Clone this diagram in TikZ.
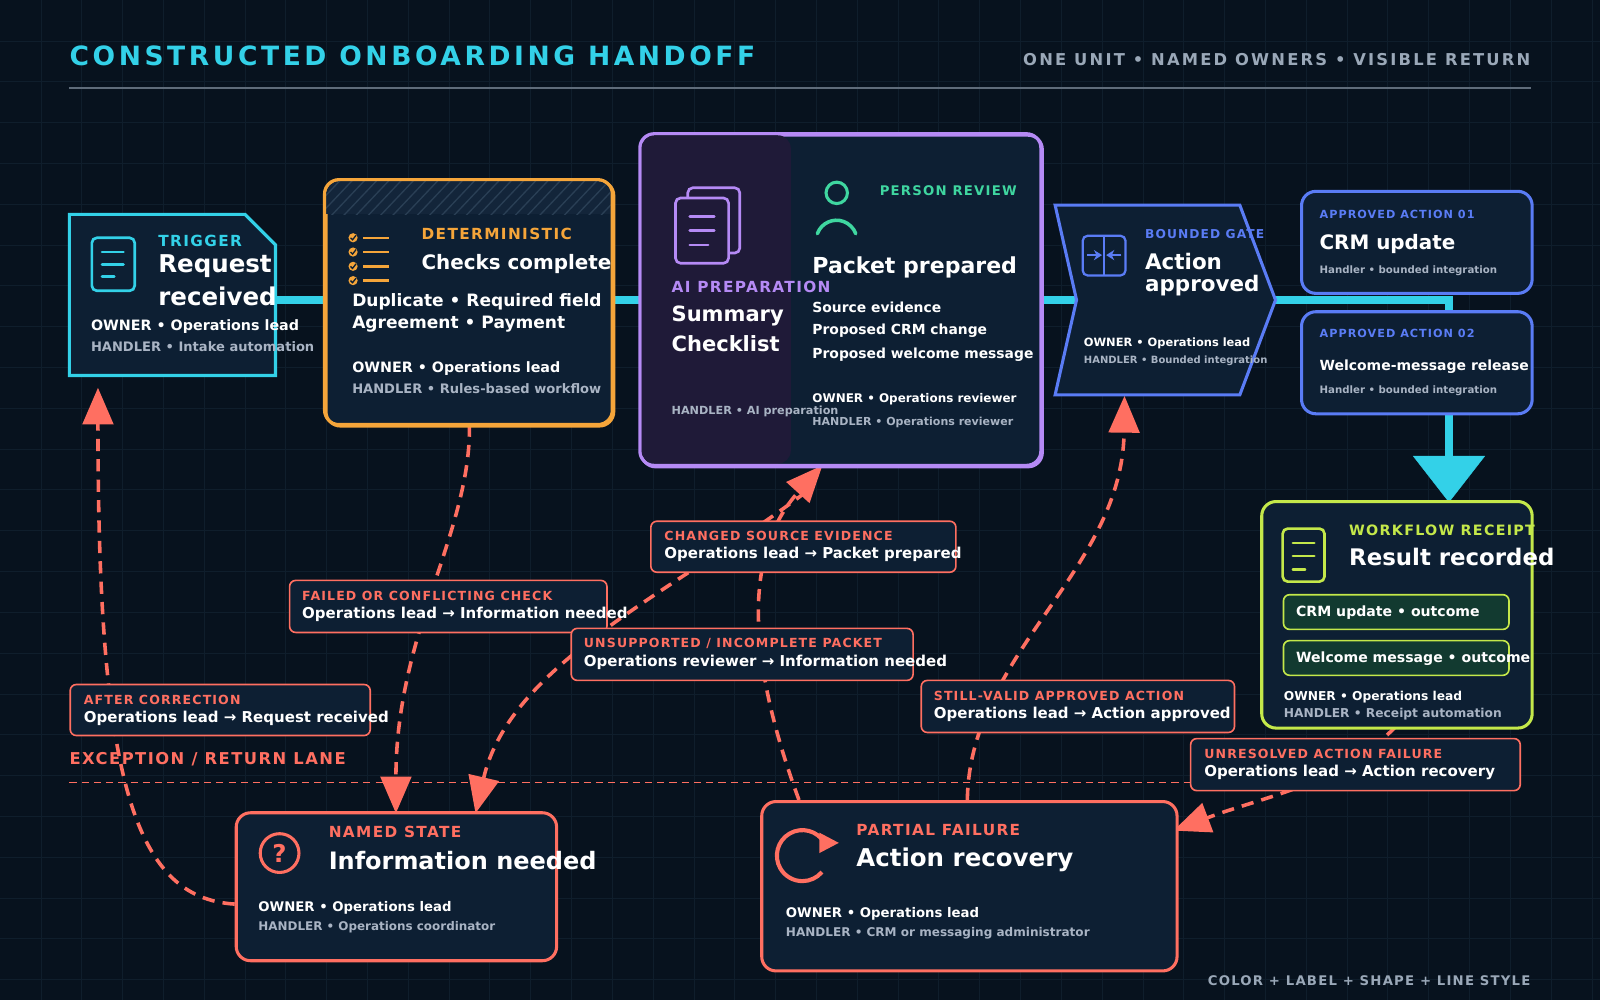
\documentclass[tikz,border=0pt]{standalone}
\usepackage{fontspec}
\setmainfont{DejaVu Sans}
\newfontfamily\spc[LetterSpace=9]{DejaVu Sans}
\newfontfamily\spcw[LetterSpace=13.5]{DejaVu Sans}
\usetikzlibrary{arrows.meta}
\definecolor{bg}{HTML}{07121E}
\definecolor{panel}{HTML}{0D1F33}
\definecolor{gridc}{HTML}{0F1E2C}
\definecolor{cy}{HTML}{33D1E8}
\definecolor{orn}{HTML}{F5A53A}
\definecolor{pur}{HTML}{B58AF5}
\definecolor{pdark}{HTML}{1F1A38}
\definecolor{grn}{HTML}{3FD6A0}
\definecolor{blu}{HTML}{5A7CF5}
\definecolor{lim}{HTML}{C4E84A}
\definecolor{pill}{HTML}{123A30}
\definecolor{cor}{HTML}{FF6F61}
\definecolor{gry}{HTML}{A9B4C4}
\definecolor{tgry}{HTML}{9AA8B8}
\definecolor{hat}{HTML}{2A3F55}
\newcommand{\fs}[1]{\fontsize{#1}{#1}\selectfont\bfseries}
\begin{document}
\begin{tikzpicture}[x=1pt,y=-1pt,
  t/.style={anchor=west,inner sep=0pt,text=white},
  tag/.style={t,font=\spc\fs{#1}},
  box/.style={draw,line width=3pt,fill=panel,rounded corners=14pt,anchor=north west,inner sep=0pt},
  lbl/.style={draw=cor,line width=1.6pt,fill=panel,rounded corners=6pt,anchor=north west,inner sep=0pt},
  ret/.style={draw=cor,line width=3.5pt,dash pattern=on 12pt off 8pt,-{Triangle[length=36pt,width=30pt]}},
  flow/.style={draw=cy,line width=8pt},
  ic/.style={line width=2.6pt,line cap=round,rounded corners=5pt}]
\fill[bg] (0,0) rectangle (1568,980);
\useasboundingbox (0,0) rectangle (1568,980);
\foreach \x in {40,80,...,1560} \draw[gridc,line width=0.6pt] (\x,0)--(\x,980);
\foreach \y in {40,80,...,960} \draw[gridc,line width=0.6pt] (0,\y)--(1568,\y);
% title
\node[t,font=\spcw\fs{26},text=cy] (title) at (68,55) {CONSTRUCTED ONBOARDING HANDOFF};
\node[t,font=\spcw\fs{16},text=tgry,anchor=east] (sub) at (1500,58) {ONE UNIT • NAMED OWNERS • VISIBLE RETURN};
\draw[tgry!60!bg,line width=1.5pt] (68,86)--(1500,86);
\node[tag=13,text=tgry,anchor=east] (foot) at (1500,961) {COLOR + LABEL + SHAPE + LINE STYLE};
% lane
\node[tag=16,text=cor] (lane) at (68,744) {EXCEPTION / RETURN LANE};
\draw[cor,line width=1.5pt,dash pattern=on 7pt off 5pt] (68,767)--(1492,767);
% main flow
\coordinate (fA) at (270,294);
\coordinate (fB) at (1420,294);
\coordinate (fC) at (1420,492);
\draw[flow] (fA)--(fB)--(1420,450);
\draw[cy,fill=cy] (1385,447)--(1455,447)--(fC)--cycle;
% return arrows
\coordinate (a1s) at (230,886); \coordinate (a1e) at (96,380);
\draw[ret] (a1s) .. controls (130,880) and (96,760) .. (a1e);
\coordinate (a2s) at (460,416); \coordinate (a2e) at (388,797);
\draw[ret] (a2s) .. controls (462,520) and (388,620) .. (a2e);
\coordinate (a3s) at (783,784); \coordinate (a3e) at (806,456);
\draw[ret] (a3s) .. controls (730,640) and (730,540) .. (a3e);
\coordinate (a4s) at (790,482); \coordinate (a4e) at (466,797);
\draw[ret] (a4s) .. controls (660,580) and (500,650) .. (a4e);
\coordinate (a5s) at (948,784); \coordinate (a5e) at (1102,388);
\draw[ret] (a5s) .. controls (950,640) and (1100,560) .. (a5e);
\coordinate (a6s) at (1368,712); \coordinate (a6e) at (1150,814);
\draw[ret] (a6s) .. controls (1310,770) and (1240,780) .. (a6e);
% trigger
\draw[cy,line width=3pt,fill=panel] (68,210)--(240,210)--(270,240)--(270,368)--(68,368)--cycle;
\node[inner sep=0,minimum width=202pt,minimum height=158pt,anchor=north west] (trig) at (68,210) {};
\draw[cy,ic] (90,233) rectangle (132,285);
\draw[cy,ic] (100,247)--(121,247) (100,259)--(121,259) (100,271)--(112,271);
\node[tag=15,text=cy] at (155,236) {TRIGGER};
\node[t,font=\fs{24}] at (155,261) {Request};
\node[t,font=\fs{24}] at (155,290) {received};
\node[t,font=\fs{14}] at (89,320) {OWNER • Operations lead};
\node[t,font=\fs{12.8},text=gry] at (89,340) {HANDLER • Intake automation};
% checks
\node[box,draw=orn,minimum width=282pt,minimum height=240pt] (chk) at (318,176) {};
\begin{scope}
\clip[rounded corners=13pt] (319.5,177.5) rectangle (598.5,414.5);
\fill[panel!80!hat] (318,176) rectangle (600,210);
\clip (318,176) rectangle (600,210);
\foreach \i in {0,12,...,320} \draw[hat,line width=1.3pt] (300+\i,212)--(336+\i,174);
\end{scope}
\draw[orn,line width=3pt,rounded corners=14pt] (318,176) rectangle (600,416);
\foreach \yy in {233,247,261,275}{
  \fill[orn] (346,\yy) circle (4.5pt);
  \draw[panel,line width=1.3pt] (343.5,\yy)--(345.5,\yy+2)--(349,\yy-2.5);
  \draw[orn,line width=2.4pt] (356,\yy)--(381,\yy);}
\node[tag=15,text=orn] at (413,229) {DETERMINISTIC};
\node[t,font=\fs{19.5}] at (413,259) {Checks complete};
\node[t,font=\fs{16.7}] at (345,296) {Duplicate • Required field};
\node[t,font=\fs{16.7}] at (345,318) {Agreement • Payment};
\node[t,font=\fs{14}] at (345,361) {OWNER • Operations lead};
\node[t,font=\fs{12.8},text=gry] at (345,381) {HANDLER • Rules-based workflow};
% AI / person
\node[box,draw=pur,minimum width=393pt,minimum height=325pt] (pkt) at (627,131) {};
\fill[pdark,rounded corners=13pt] (628.5,132.5) -- (775,132.5) -- (775,454.5) -- (628.5,454.5) -- cycle;
\draw[pur,line width=3pt,rounded corners=14pt] (627,131) rectangle (1020,456);
\draw[pur,ic,fill=pdark] (674,184) rectangle (725,248);
\draw[pur,ic,fill=pdark] (662,194) rectangle (714,258);
\draw[pur,ic] (676,212)--(700,212) (676,226)--(700,226) (676,240)--(694,240);
\node[tag=15,text=pur] at (658,281) {AI PREPARATION};
\node[t,font=\fs{20.6}] at (658,310) {Summary};
\node[t,font=\fs{20.6}] at (658,337) {Checklist};
\node[t,font=\fs{11},text=gry] at (658,403) {HANDLER • AI preparation};
\draw[grn,line width=3pt] (820,189) circle (10.5pt);
\draw[grn,line width=3.5pt,line cap=round] (801,229) arc (160:20:20pt);
\node[tag=13,text=grn] at (862,187) {PERSON REVIEW};
\node[t,font=\fs{21.6}] at (796,262) {Packet prepared};
\node[t,font=\fs{13.6}] at (796,301) {Source evidence};
\node[t,font=\fs{13.6}] at (796,324) {Proposed CRM change};
\node[t,font=\fs{13.6}] at (796,348) {Proposed welcome message};
\node[t,font=\fs{11.7}] at (796,391) {OWNER • Operations reviewer};
\node[t,font=\fs{10.8},text=gry] at (796,414) {HANDLER • Operations reviewer};
% gate
\draw[blu,line width=3pt,fill=panel] (1034,201)--(1215,201)--(1250,294)--(1215,387)--(1034,387)--(1055,294)--cycle;
\node[inner sep=0,minimum width=216pt,minimum height=186pt,anchor=north west] (gate) at (1034,201) {};
\draw[blu,ic,line width=2.2pt] (1061,231) rectangle (1103,270);
\draw[blu,line width=2pt] (1082,231)--(1082,270);
\draw[blu,line width=2pt,-{Stealth[length=8pt,width=10pt]}] (1065,250)--(1080,250);
\draw[blu,line width=2pt,-{Stealth[length=8pt,width=10pt]}] (1099,250)--(1084,250);
\node[tag=12,text=blu] at (1122,229) {BOUNDED GATE};
\node[t,font=\fs{21}] at (1122,256) {Action};
\node[t,font=\fs{21}] at (1122,280) {approved};
\node[t,font=\fs{11.2}] at (1062,336) {OWNER • Operations lead};
\node[t,font=\fs{9.8},text=gry] at (1062,354) {HANDLER • Bounded integration};
% actions
\node[box,draw=blu,minimum width=226pt,minimum height=100pt] (act1) at (1274,186) {};
\node[tag=11,text=blu] at (1293,210) {APPROVED ACTION 01};
\node[t,font=\fs{19.5}] at (1293,239) {CRM update};
\node[t,font=\fs{10},text=gry] at (1293,265) {Handler • bounded integration};
\node[box,draw=blu,minimum width=226pt,minimum height=100pt] (act2) at (1274,304) {};
\node[tag=11,text=blu] at (1293,327) {APPROVED ACTION 02};
\node[t,font=\fs{13.7}] at (1293,359) {Welcome-message release};
\node[t,font=\fs{10},text=gry] at (1293,383) {Handler • bounded integration};
% receipt
\node[box,draw=lim,minimum width=265pt,minimum height=222pt] (rcpt) at (1235,490) {};
\draw[lim,ic] (1257,518) rectangle (1298,570);
\draw[lim,ic] (1267,532)--(1288,532) (1267,545)--(1288,545) (1267,558)--(1279,558);
\node[tag=14,text=lim] at (1322,520) {WORKFLOW RECEIPT};
\node[t,font=\fs{22.4}] at (1322,546) {Result recorded};
\node[draw=lim,line width=1.6pt,fill=pill,rounded corners=6pt,anchor=north west,minimum width=221pt,minimum height=34pt,inner sep=0] (p1) at (1257,582) {};
\node[t,font=\fs{13.8}] at (1270,600) {CRM update • outcome};
\node[draw=lim,line width=1.6pt,fill=pill,rounded corners=6pt,anchor=north west,minimum width=221pt,minimum height=34pt,inner sep=0] (p2) at (1257,627) {};
\node[t,font=\fs{13.8}] at (1270,645) {Welcome message • outcome};
\node[t,font=\fs{12}] at (1258,683) {OWNER • Operations lead};
\node[t,font=\fs{12},text=gry] at (1258,700) {HANDLER • Receipt automation};
% information needed
\node[box,draw=cor,minimum width=314pt,minimum height=145pt] (info) at (230,795) {};
\draw[cor,line width=3pt] (274,836) circle (19pt);
\node[text=cor,font=\fs{24},inner sep=0] at (274,836) {?};
\node[tag=15,text=cor] at (322,815) {NAMED STATE};
\node[t,font=\fs{23.5}] at (322,843) {Information needed};
\node[t,font=\fs{13}] at (253,890) {OWNER • Operations lead};
\node[t,font=\fs{11.7},text=gry] at (253,909) {HANDLER • Operations coordinator};
% action recovery
\node[box,draw=cor,minimum width=407pt,minimum height=166pt] (rec) at (745,784) {};
\draw[cor,line width=4pt] (808,826) arc (30:320:25pt);
\fill[cor] (803,816)--(822,826)--(803,836)--cycle;
\node[tag=15,text=cor] at (839,813) {PARTIAL FAILURE};
\node[t,font=\fs{24}] at (839,843) {Action recovery};
\node[t,font=\fs{13}] at (770,896) {OWNER • Operations lead};
\node[t,font=\fs{11.8},text=gry] at (770,915) {HANDLER • CRM or messaging administrator};
% labels
\node[lbl,minimum width=294pt,minimum height=50pt] (l1) at (68,670) {};
\node[tag=12.3,text=cor] at (82,686) {AFTER CORRECTION};
\node[t,font=\fs{14.7}] at (82,704) {Operations lead → Request received};
\node[lbl,minimum width=311pt,minimum height=51pt] (l2) at (283,568) {};
\node[tag=12.3,text=cor] at (296,584) {FAILED OR CONFLICTING CHECK};
\node[t,font=\fs{14.7}] at (296,602) {Operations lead → Information needed};
\node[lbl,minimum width=299pt,minimum height=50pt] (l3) at (637,510) {};
\node[tag=12.3,text=cor] at (651,525) {CHANGED SOURCE EVIDENCE};
\node[t,font=\fs{14.7}] at (651,543) {Operations lead → Packet prepared};
\node[lbl,minimum width=335pt,minimum height=51pt] (l4) at (559,615) {};
\node[tag=12.3,text=cor] at (572,631) {UNSUPPORTED / INCOMPLETE PACKET};
\node[t,font=\fs{14.7}] at (572,649) {Operations reviewer → Information needed};
\node[lbl,minimum width=307pt,minimum height=51pt] (l5) at (902,666) {};
\node[tag=12.3,text=cor] at (915,682) {STILL-VALID APPROVED ACTION};
\node[t,font=\fs{14.7}] at (915,700) {Operations lead → Action approved};
\node[lbl,minimum width=323pt,minimum height=51pt] (l6) at (1166,723) {};
\node[tag=12.3,text=cor] at (1180,739) {UNRESOLVED ACTION FAILURE};
\node[t,font=\fs{14.7}] at (1180,757) {Operations lead → Action recovery};
\end{tikzpicture}
\end{document}
